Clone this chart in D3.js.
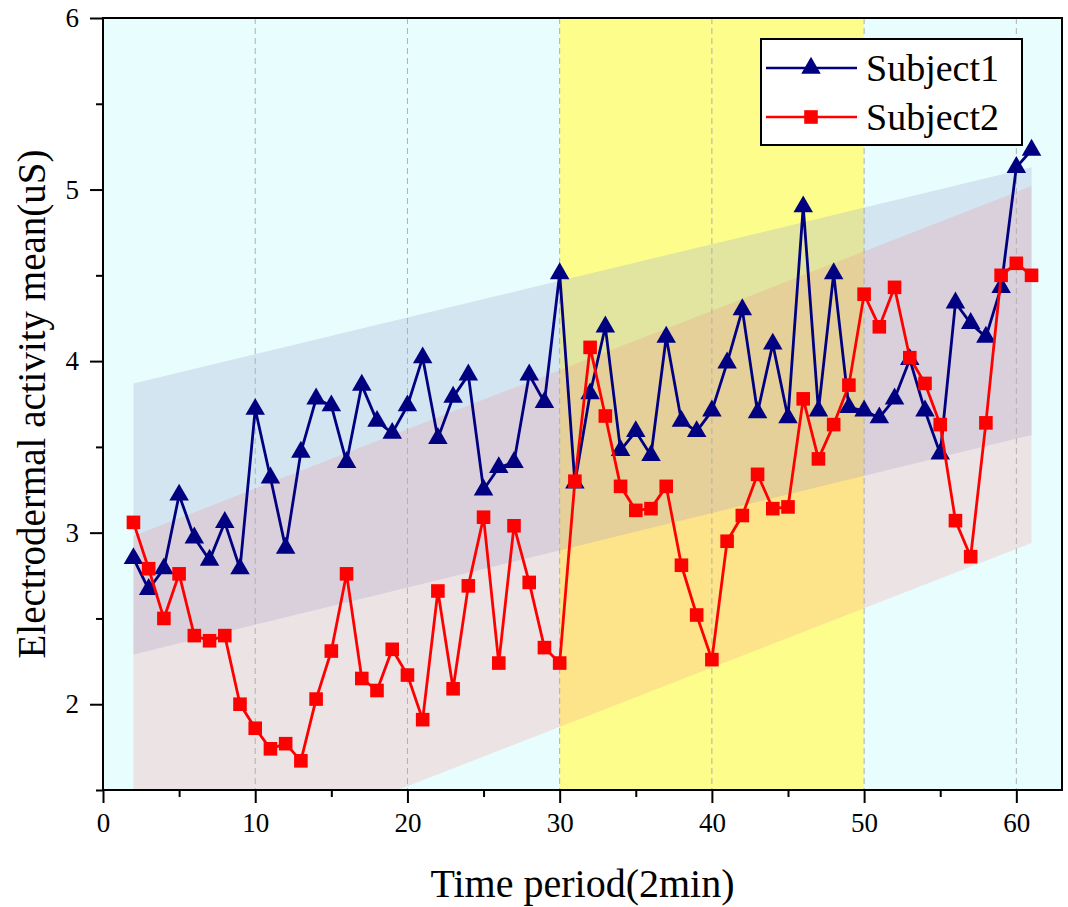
<!DOCTYPE html>
<html>
<head>
<meta charset="utf-8">
<script src="https://cdn.jsdelivr.net/npm/d3@7"></script>
<style>
  body { margin: 0; background: #fff; }
  svg { display: block; }
  text { font-family: "Liberation Serif", "Times New Roman", serif; fill: #000; }
</style>
</head>
<body>
<svg id="chart" width="1068" height="907"></svg>
<script>
// Time periods (2 min each) and mean electrodermal activity (uS) per subject
const periods = [2, 3, 4, 5, 6, 7, 8, 9, 10, 11, 12, 13, 14, 15, 16, 17, 18, 19, 20, 21,
  22, 23, 24, 25, 26, 27, 28, 29, 30, 31, 32, 33, 34, 35, 36, 37, 38, 39, 40, 41,
  42, 43, 44, 45, 46, 47, 48, 49, 50, 51, 52, 53, 54, 55, 56, 57, 58, 59, 60, 61];

const subject1 = [2.85, 2.67, 2.79, 3.22, 2.97, 2.84, 3.06, 2.79, 3.72, 3.32,
  2.91, 3.47, 3.78, 3.74, 3.41, 3.86, 3.65, 3.58, 3.74, 4.02,
  3.55, 3.79, 3.92, 3.25, 3.38, 3.41, 3.92, 3.76, 4.51, 3.29,
  3.81, 4.20, 3.48, 3.59, 3.45, 4.14, 3.65, 3.59, 3.71, 3.99,
  4.30, 3.70, 4.10, 3.67, 4.90, 3.71, 4.51, 3.73, 3.71, 3.67,
  3.78, 4.01, 3.71, 3.46, 4.34, 4.22, 4.14, 4.43, 5.13, 5.23];

const subject2 = [3.06, 2.79, 2.50, 2.76, 2.40, 2.37, 2.40, 2.00, 1.86, 1.74,
  1.77, 1.67, 2.03, 2.31, 2.76, 2.15, 2.08, 2.32, 2.17, 1.91,
  2.66, 2.09, 2.69, 3.09, 2.24, 3.04, 2.71, 2.33, 2.24, 3.30,
  4.08, 3.68, 3.27, 3.13, 3.14, 3.27, 2.81, 2.52, 2.26, 2.95,
  3.10, 3.34, 3.14, 3.15, 3.78, 3.43, 3.63, 3.86, 4.39, 4.20,
  4.43, 4.02, 3.87, 3.63, 3.07, 2.86, 3.64, 4.50, 4.57, 4.50];

// Linear trend bands: value at the first and last period
const bandX = [2, 61];
const band1Upper = [3.87, 5.13];
const band1Lower = [2.29, 3.57];
const band2Upper = [2.98, 5.02];
const band2Lower = [0.90, 2.94];

// Highlighted interval on the time axis
const highlightRange = [30, 50];

const xTicks = [0, 10, 20, 30, 40, 50, 60];
const xMinorTicks = [5, 15, 25, 35, 45, 55];
const yTicks = [2, 3, 4, 5, 6];
const yMinorTicks = [1.5, 2.5, 3.5, 4.5, 5.5];
const gridX = [10, 20, 30, 40, 50, 60];

const seriesNames = ["Subject1", "Subject2"];
const seriesColors = ["#000080", "#ff0000"];

const serif = '"Liberation Serif", "Times New Roman", serif';

const svg = d3.select("#chart");
const plot = { left: 103, right: 1062, top: 18, bottom: 790 };

const x = d3.scaleLinear().domain([0, 63]).range([plot.left, plot.right]);
const y = d3.scaleLinear().domain([1.5, 6]).range([plot.bottom, plot.top]);

svg.append("defs").append("clipPath").attr("id", "plotClip")
  .append("rect")
  .attr("x", plot.left).attr("y", plot.top)
  .attr("width", plot.right - plot.left).attr("height", plot.bottom - plot.top);

const body = svg.append("g").attr("clip-path", "url(#plotClip)");

// Background and highlighted interval
body.append("rect")
  .attr("x", plot.left).attr("y", plot.top)
  .attr("width", plot.right - plot.left).attr("height", plot.bottom - plot.top)
  .attr("fill", "#e8fdfd");

body.append("rect")
  .attr("x", x(highlightRange[0])).attr("y", plot.top)
  .attr("width", x(highlightRange[1]) - x(highlightRange[0]))
  .attr("height", plot.bottom - plot.top)
  .attr("fill", "#fdfd8c");

// Trend bands
const bandArea = d3.area()
  .x(d => x(d.x))
  .y0(d => y(d.lo))
  .y1(d => y(d.hi));

function bandData(lower, upper) {
  return bandX.map((v, i) => ({ x: v, lo: lower[i], hi: upper[i] }));
}

body.append("path")
  .datum(bandData(band1Lower, band1Upper))
  .attr("d", bandArea)
  .attr("fill", "#9aaad0")
  .attr("fill-opacity", 0.28);

body.append("path")
  .datum(bandData(band2Lower, band2Upper))
  .attr("d", bandArea)
  .attr("fill", "#fd7580")
  .attr("fill-opacity", 0.19);

// Dashed vertical grid
body.selectAll("line.grid")
  .data(gridX)
  .join("line")
  .attr("class", "grid")
  .attr("x1", d => x(d)).attr("x2", d => x(d))
  .attr("y1", plot.top).attr("y2", plot.bottom)
  .attr("stroke", "#b0b0b0")
  .attr("stroke-width", 1)
  .attr("stroke-dasharray", "6,4");

// Series lines and markers
const line = d3.line()
  .x((d, i) => x(periods[i]))
  .y(d => y(d));

const symbols = [
  d3.symbol().type(d3.symbolTriangle).size(165),
  d3.symbol().type(d3.symbolSquare).size(185)
];

[subject1, subject2].forEach((vals, s) => {
  const g = svg.append("g");
  g.append("path")
    .datum(vals)
    .attr("d", line)
    .attr("fill", "none")
    .attr("stroke", seriesColors[s])
    .attr("stroke-width", 2.8)
    .attr("stroke-linejoin", "round");
  g.selectAll("path.marker")
    .data(vals)
    .join("path")
    .attr("class", "marker")
    .attr("transform", (d, i) => `translate(${x(periods[i])},${y(d)})`)
    .attr("d", symbols[s]())
    .attr("fill", seriesColors[s]);
});

// Frame
svg.append("rect")
  .attr("x", plot.left).attr("y", plot.top)
  .attr("width", plot.right - plot.left).attr("height", plot.bottom - plot.top)
  .attr("fill", "none")
  .attr("stroke", "#000")
  .attr("stroke-width", 2);

// Axes
function styleAxis(g) {
  g.attr("font-family", serif).attr("font-size", 27);
  g.select(".domain").remove();
  g.selectAll(".tick line").attr("stroke", "#000").attr("stroke-width", 2);
  g.selectAll(".tick text")
    .attr("font-family", serif)
    .style("font-family", serif)
    .style("font-size", "27px")
    .attr("fill", "#000");
}

svg.append("g")
  .attr("transform", `translate(0,${plot.bottom})`)
  .call(d3.axisBottom(x).tickValues(xTicks).tickSize(13).tickPadding(10).tickFormat(d3.format("d")))
  .call(styleAxis);

svg.append("g")
  .attr("transform", `translate(0,${plot.bottom})`)
  .call(d3.axisBottom(x).tickValues(xMinorTicks).tickSize(7).tickFormat(""))
  .call(styleAxis);

svg.append("g")
  .attr("transform", `translate(${plot.left},0)`)
  .call(d3.axisLeft(y).tickValues(yTicks).tickSize(13).tickPadding(11).tickFormat(d3.format("d")))
  .call(styleAxis);

svg.append("g")
  .attr("transform", `translate(${plot.left},0)`)
  .call(d3.axisLeft(y).tickValues(yMinorTicks).tickSize(7).tickFormat(""))
  .call(styleAxis);

// Axis titles
svg.append("text")
  .attr("x", (plot.left + plot.right) / 2)
  .attr("y", 897)
  .attr("text-anchor", "middle")
  .style("font-size", "40px")
  .text("Time period(2min)");

svg.append("text")
  .attr("transform", `translate(45,${(plot.top + plot.bottom) / 2}) rotate(-90)`)
  .attr("text-anchor", "middle")
  .style("font-size", "39px")
  .text("Electrodermal activity mean(uS)");

// Legend
const legend = svg.append("g");
legend.append("rect")
  .attr("x", 761).attr("y", 39)
  .attr("width", 261).attr("height", 106)
  .attr("fill", "#fff")
  .attr("stroke", "#000")
  .attr("stroke-width", 2);

seriesNames.forEach((name, s) => {
  const ry = 68 + s * 49;
  legend.append("line")
    .attr("x1", 766).attr("x2", 857)
    .attr("y1", ry).attr("y2", ry)
    .attr("stroke", seriesColors[s])
    .attr("stroke-width", 2.5);
  legend.append("path")
    .attr("transform", `translate(811,${ry})`)
    .attr("d", symbols[s]())
    .attr("fill", seriesColors[s]);
  legend.append("text")
    .attr("x", 866).attr("y", ry + 13)
    .style("font-size", "38px")
    .text(name);
});
</script>
</body>
</html>
